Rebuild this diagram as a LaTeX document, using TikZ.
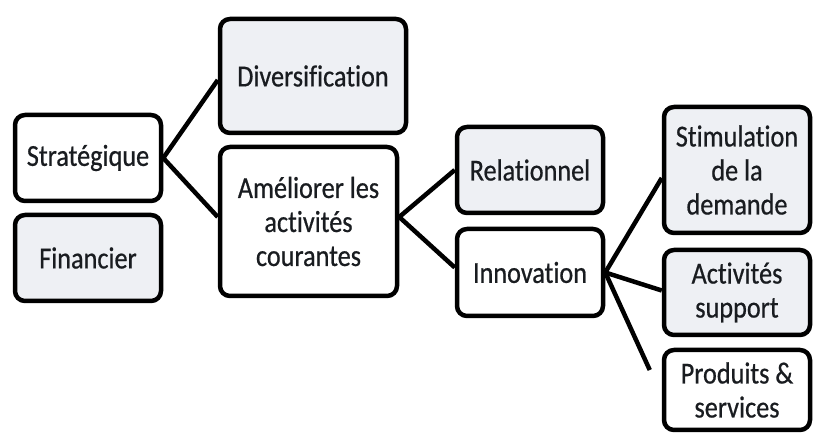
\documentclass[tikz,border=0pt]{standalone}
\usepackage{fontspec}
\setmainfont[Ligatures=NoCommon,FakeBold=0.6,FakeStretch=0.86]{Carlito}
\definecolor{boxgrey}{RGB}{238,240,244}
\definecolor{txt}{RGB}{25,28,32}
\begin{document}
\begin{tikzpicture}[x=1pt,y=-1pt,
  box/.style={draw=black, line width=4.5pt, rounded corners=10pt, align=center,
    text=txt, font=\fontsize{30.5}{34}\selectfont, inner sep=1pt, minimum width=146pt},
  greybox/.style={box, fill=boxgrey},
  whitebox/.style={box, fill=white},
  link/.style={line width=4.5pt, black}]
\useasboundingbox[fill=white] (0,0) rectangle (815,438);
\node[whitebox, minimum height=86pt] (strat) at (88,158) {Stratégique};
\node[greybox, minimum height=86pt] (fin) at (88,258) {Financier};
\node[greybox, minimum width=186pt, minimum height=114pt] (div) at (313,76) {Diversification};
\node[whitebox, minimum width=177pt, minimum height=149pt] (amel) at (308.5,221.5) {Améliorer les\\activités\\courantes};
\node[greybox, minimum height=86pt] (rel) at (530,170) {Relationnel};
\node[whitebox, minimum height=87pt] (inno) at (530,272.5) {Innovation};
\node[greybox, minimum height=126pt] (stim) at (737,170) {Stimulation\\de la\\demande};
\node[greybox, minimum height=85pt] (act) at (737,292.5) {Activités\\support};
\node[whitebox, minimum height=80pt] (prod) at (737,390) {Produits \&\\services};
\draw[link] ([yshift=-4pt]div.west) -- (strat.east) -- ([yshift=4.5pt]amel.west);
\draw[link] (rel.west) -- ([yshift=4.5pt]amel.east) -- ([yshift=5pt]inno.west);
\draw[link] ([yshift=-8pt]stim.west) -- (inno.east) -- ([yshift=2pt]act.west);
\draw[link] (inno.east) -- ([xshift=-12pt,yshift=20pt]prod.west);
\end{tikzpicture}
\end{document}
